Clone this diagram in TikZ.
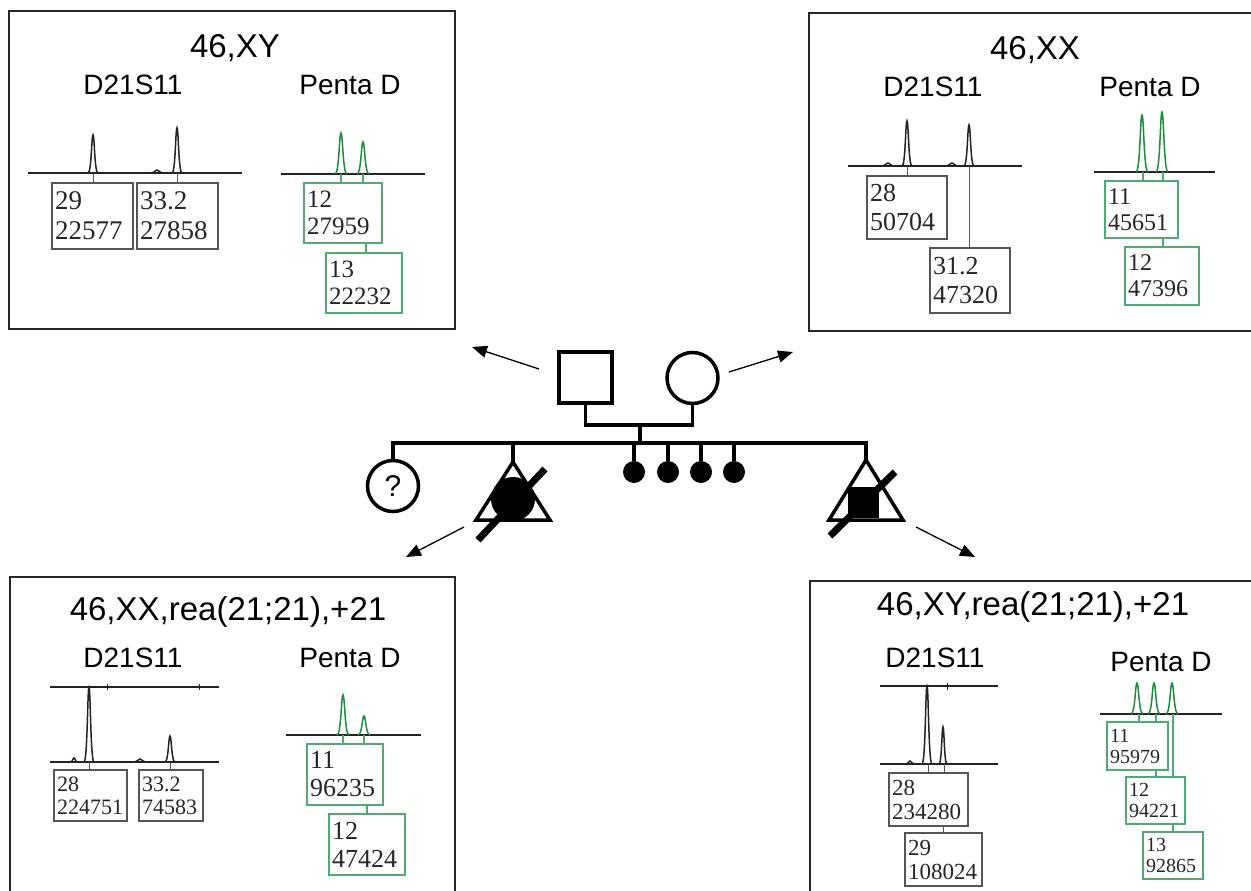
\documentclass[tikz,border=0pt]{standalone}
\usepackage{fontspec}
\setmainfont{Liberation Sans}
\newfontfamily\numfont{Liberation Serif}
\usetikzlibrary{arrows.meta}

\definecolor{trgreen}{RGB}{30,140,60}
\definecolor{bxgreen}{RGB}{80,170,115}
\definecolor{trgray}{RGB}{35,35,35}
\definecolor{bxgray}{RGB}{85,85,85}

\tikzset{
  panel/.style={draw=black!85, line width=2pt},
  title/.style={font=\fontsize{33}{36}\selectfont, inner sep=0pt},
  locus/.style={font=\fontsize{28}{30}\selectfont, inner sep=0pt},
  blk/.style={draw=trgray, line width=1.5pt},
  grn/.style={draw=trgreen, line width=1.5pt},
  bline/.style={draw=bxgray, line width=1pt},
  gline/.style={draw=bxgreen, line width=1.1pt},
  abox/.style={draw=bxgray, line width=1.2pt, inner sep=0pt, align=left, text=black!85},
  gbox/.style={abox, draw=bxgreen},
  ped/.style={line width=3.5pt},
  arr/.style={line width=1.3pt, -{Triangle[length=15pt,width=12pt]}},
  slash/.style={line width=7pt},
}

% allele box: name, style, x1, y1, x2, y2, font size, line skip, text
\newcommand\allele[9]{%
  \pgfmathsetmacro\bw{#5-#3}\pgfmathsetmacro\bh{#6-#4}\pgfmathsetmacro\tw{#5-#3-6}%
  \node[#2, minimum width=\bw pt, minimum height=\bh pt, text width=\tw pt,
        font=\numfont\fontsize{#7}{#8}\selectfont] (#1) at ({(#3+#5)/2},{(#4+#6)/2}) {#9};}
% electropherogram peak: style, x, baseline y, top y, half width
\newcommand\pk[5]{\draw[#1] ({#2-#5},#3) .. controls ({#2-0.3*#5},#3) and ({#2-0.3*#5},#4) .. (#2,#4)
  .. controls ({#2+0.3*#5},#4) and ({#2+0.3*#5},#3) .. ({#2+#5},#3);}
% drop line from a peak foot to the top of a box
\newcommand\tick[4]{\coordinate (tk) at (#1,#2); \draw[#4] (tk) -- (tk |- #3.north);}
% link between two stacked boxes at a given x
\newcommand\link[4]{\coordinate (lk) at (#1,0); \draw[#4] (lk |- #2.south) -- (lk |- #3.north);}

\begin{document}
\begin{tikzpicture}[x=1pt, y=-1pt]
\useasboundingbox (0,0) rectangle (1251,891);
\fill[white] (0,0) rectangle (1251,891);
\clip (0,0) rectangle (1251,891);

% ---------- father: 46,XY ----------
\draw[panel] (9,11) rectangle (455,329);
\node[title] (t1) at (235,48) {46,XY};
\node[locus] (l1a) at (133,85) {D21S11};
\node[locus] (l1b) at (350,85) {Penta D};
\draw[blk] (28,173) -- (242,173);
\pk{blk}{157}{173}{170}{7}
\pk{blk}{93}{173}{135}{5}
\pk{blk}{177}{173}{128}{5}
\allele{a1}{abox}{52}{183}{133}{249}{27}{30}{29\\22577}
\allele{a2}{abox}{137}{183}{218}{249}{27}{30}{33.2\\27858}
\tick{93}{173}{a1}{bline}
\tick{177}{173}{a2}{bline}
\draw[blk] (281,174) -- (425,174);
\pk{grn}{341}{174}{133}{6}
\pk{grn}{363}{174}{142}{6}
\allele{g1}{gbox}{304}{183}{382}{243}{25}{27}{12\\27959}
\allele{g2}{gbox}{326}{253}{402}{313}{25}{27}{13\\22232}
\tick{341}{174}{g1}{gline}
\tick{363}{174}{g1}{gline}
\link{366}{g1}{g2}{gline}

% ---------- mother: 46,XX ----------
\draw[panel] (809,13) rectangle (1262,331);
\node[title] (t2) at (1035,50) {46,XX};
\node[locus] (l2a) at (933,87) {D21S11};
\node[locus] (l2b) at (1150,87) {Penta D};
\draw[blk] (848,166) -- (1022,166);
\pk{blk}{888}{166}{163}{7}
\pk{blk}{952}{166}{163}{7}
\pk{blk}{907}{166}{121}{5}
\pk{blk}{969}{166}{125}{5}
\allele{b1}{abox}{867}{176}{947}{239}{26}{29}{28\\50704}
\allele{b2}{abox}{930}{248}{1010}{313}{26}{29}{31.2\\47320}
\tick{907}{166}{b1}{bline}
\tick{969}{166}{b2}{bline}
\draw[blk] (1094,172) -- (1215,172);
\pk{grn}{1142}{172}{115}{6}
\pk{grn}{1162}{172}{112}{6}
\allele{h1}{gbox}{1105}{181}{1178}{238}{24}{26}{11\\45651}
\allele{h2}{gbox}{1125}{247}{1199}{305}{24}{26}{12\\47396}
\tick{1143}{172}{h1}{gline}
\tick{1163}{172}{h1}{gline}
\link{1163}{h1}{h2}{gline}

% ---------- daughter: 46,XX,rea(21;21),+21 ----------
\draw[panel] (10,577) rectangle (455,900);
\node[title] (t3) at (228,612) {46,XX,rea(21;21),+21};
\node[locus] (l3a) at (133,658) {D21S11};
\node[locus] (l3b) at (350,658) {Penta D};
\draw[blk] (50,687) -- (219,687);
\draw[blk, line width=0.8pt] (107,684) -- (107,690) (199,684) -- (199,690);
\draw[blk] (50,762) -- (219,762);
\pk{blk}{74}{762}{758}{4}
\pk{blk}{140}{762}{759}{7}
\pk{blk}{89}{762}{687}{5}
\pk{blk}{170}{762}{736}{5}
\allele{c1}{abox}{54}{770}{127}{821}{22}{23}{28\\224751}
\allele{c2}{abox}{139}{770}{203}{821}{22}{23}{33.2\\74583}
\tick{89}{762}{c1}{bline}
\tick{170}{762}{c2}{bline}
\draw[blk] (286,735) -- (421,735);
\pk{grn}{343}{735}{695}{6}
\pk{grn}{364}{735}{716}{6}
\allele{k1}{gbox}{307}{744}{383}{805}{26}{28}{11\\96235}
\allele{k2}{gbox}{329}{814}{405}{875}{26}{28}{12\\47424}
\tick{343}{735}{k1}{gline}
\tick{364}{735}{k1}{gline}
\link{367}{k1}{k2}{gline}

% ---------- son: 46,XY,rea(21;21),+21 ----------
\draw[panel] (810,581) rectangle (1262,900);
\node[title] (t4) at (1033,607) {46,XY,rea(21;21),+21};
\node[locus] (l4a) at (935,658) {D21S11};
\node[locus] (l4b) at (1161,662) {Penta D};
\draw[blk] (880,686) -- (998,686);
\draw[blk, line width=0.8pt] (947,683) -- (947,690);
\draw[blk] (880,764) -- (998,764);
\pk{blk}{910}{764}{761}{5}
\pk{blk}{927}{764}{686}{5}
\pk{blk}{943}{764}{727}{4}
\allele{d1}{abox}{889}{773}{968}{826}{23}{24}{28\\234280}
\allele{d2}{abox}{905}{833}{982}{886}{23}{24}{29\\108024}
\tick{928}{764}{d1}{bline}
\tick{944}{764}{d1}{bline}
\link{943}{d1}{d2}{bline}
\draw[blk] (1100,714) -- (1222,714);
\pk{grn}{1137}{714}{683}{6}
\pk{grn}{1154}{714}{683}{6}
\pk{grn}{1172}{714}{683}{6}
\allele{m1}{gbox}{1107}{722}{1168}{770}{20}{21}{11\\95979}
\allele{m2}{gbox}{1126}{777}{1185}{824}{20}{21}{12\\94221}
\allele{m3}{gbox}{1143}{832}{1203}{879}{20}{21}{13\\92865}
\tick{1139}{714}{m1}{gline}
\tick{1156}{714}{m1}{gline}
\tick{1173}{714}{m2}{gline}
\link{1156}{m1}{m2}{gline}
\link{1173}{m2}{m3}{gline}

% ---------- pedigree ----------
\node[ped, draw, minimum width=53pt, minimum height=51pt, inner sep=0pt] (father) at (585.5,377.5) {};
\node[ped, draw, circle, minimum size=51pt, inner sep=0pt] (mother) at (692.5,378) {};
\coordinate (mate) at (640,425);
\coordinate (sib) at (640,443);
\coordinate (sibR) at (866,443);
\draw[ped, line join=miter] (father.south) |- (mate) -| (mother.south);
\draw[ped] (mate) -- (sib);

\node[ped, draw, circle, minimum size=51pt, inner sep=0pt, font=\fontsize{30}{30}\selectfont] (unk) at (393,486) {?};

\coordinate (apx1) at (513,462);
\coordinate (apx2) at (866,460);
\draw[ped, line join=miter] (unk.north) |- (sibR) -- (apx2);
\coordinate (st1) at (513,443);
\draw[ped] (st1) -- (apx1);

% miscarriage, female, affected
\draw[ped, line join=miter] (apx1) -- (550,520) -- (476,520) -- cycle;
\fill (513,499) circle (22pt);
\draw[slash] (478,540) -- (545,469);

% four affected miscarriages
\foreach \n/\x in {s1/634, s2/668, s3/701, s4/734} {
  \node[fill, circle, minimum size=22pt, inner sep=0pt] (\n) at (\x,472) {};
  \draw[ped] (\n |- sib) -- (\n.north);
}

% miscarriage, male, affected
\draw[ped, line join=miter] (apx2) -- (903,520) -- (829,520) -- cycle;
\fill (848,487) rectangle (879,518);
\draw[slash] (830,536) -- (895,472);

% arrows to the panels
\coordinate (aF) at (539,369); \coordinate (pF) at (472,347);
\coordinate (aM) at (729,372); \coordinate (pM) at (793,352);
\coordinate (aD) at (464,527); \coordinate (pD) at (406,557);
\coordinate (aS) at (916,527); \coordinate (pS) at (975,557);
\draw[arr] (aF) -- (pF);
\draw[arr] (aM) -- (pM);
\draw[arr] (aD) -- (pD);
\draw[arr] (aS) -- (pS);
\end{tikzpicture}
\end{document}
